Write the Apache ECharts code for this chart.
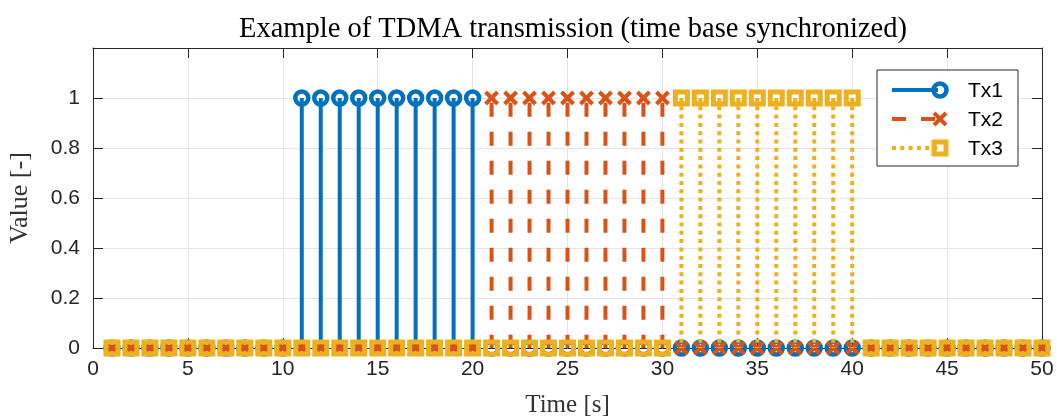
<!DOCTYPE html>
<html>
<head>
<meta charset="utf-8">
<script src="https://cdn.jsdelivr.net/npm/echarts@6/dist/echarts.min.js"></script>
<style>html,body{margin:0;padding:0;background:#fff}#c{width:1057px;height:420px}</style>
</head>
<body>
<div id="c"></div>
<script>
const titleText = 'Example of TDMA transmission (time base synchronized)';
const xLabel = 'Time [s]';
const yLabel = 'Value [-]';
const seriesNames = ['Tx1', 'Tx2', 'Tx3'];
const time = [1,2,3,4,5,6,7,8,9,10,11,12,13,14,15,16,17,18,19,20,21,22,23,24,25,26,27,28,29,30,31,32,33,34,35,36,37,38,39,40,41,42,43,44,45,46,47,48,49,50];
const tx1 = [0,0,0,0,0,0,0,0,0,0,1,1,1,1,1,1,1,1,1,1,0,0,0,0,0,0,0,0,0,0,0,0,0,0,0,0,0,0,0,0,0,0,0,0,0,0,0,0,0,0];
const tx2 = [0,0,0,0,0,0,0,0,0,0,0,0,0,0,0,0,0,0,0,0,1,1,1,1,1,1,1,1,1,1,0,0,0,0,0,0,0,0,0,0,0,0,0,0,0,0,0,0,0,0];
const tx3 = [0,0,0,0,0,0,0,0,0,0,0,0,0,0,0,0,0,0,0,0,0,0,0,0,0,0,0,0,0,0,1,1,1,1,1,1,1,1,1,1,0,0,0,0,0,0,0,0,0,0];
const yTicks = [0, 0.2, 0.4, 0.6, 0.8, 1];

const colors = ['#0072BD', '#D95319', '#EDB120'];
const dashes = [null, [14, 15], [4, 4.3]];
const dashOffsets = [0, 24.3, 0];
const markers = ['circle', 'x', 'square'];
const axisColor = '#262626';
const serif = '"Liberation Serif", "DejaVu Serif", serif';
const sans = '"Liberation Sans", Arial, sans-serif';

function markerShape(kind, cx, cy, color) {
  if (kind === 'circle') {
    return {type: 'circle', shape: {cx: cx, cy: cy, r: 6.5}, style: {fill: null, stroke: color, lineWidth: 4.5}};
  }
  if (kind === 'square') {
    return {type: 'rect', shape: {x: cx - 6, y: cy - 6, width: 12, height: 12}, style: {fill: null, stroke: color, lineWidth: 5}};
  }
  const d = 6;
  return {type: 'group', children: [
    {type: 'line', shape: {x1: cx - d, y1: cy - d, x2: cx + d, y2: cy + d}, style: {stroke: color, lineWidth: 4}},
    {type: 'line', shape: {x1: cx - d, y1: cy + d, x2: cx + d, y2: cy - d}, style: {stroke: color, lineWidth: 4}}
  ]};
}

function makeSeries(idx, values) {
  return {
    type: 'custom',
    name: seriesNames[idx],
    data: time.map((t, i) => [t, values[i]]),
    encode: {x: 0, y: 1},
    clip: false,
    renderItem: function (params, api) {
      const x = api.value(0), y = api.value(1);
      const p0 = api.coord([x, 0]);
      const p1 = api.coord([x, y]);
      const children = [];
      if (y !== 0) {
        children.push({type: 'line', shape: {x1: p1[0], y1: p1[1], x2: p0[0], y2: p0[1]},
          style: {stroke: colors[idx], lineWidth: 4, lineDash: dashes[idx], lineDashOffset: dashOffsets[idx]}});
      }
      children.push(markerShape(markers[idx], p1[0], p1[1], colors[idx]));
      return {type: 'group', children: children};
    }
  };
}

// legend via graphics
const legX = 877, legY = 70, legW = 141, legH = 96;
const legRows = [90, 119, 148];
const legendEls = [{type: 'rect', shape: {x: legX, y: legY, width: legW, height: legH},
  style: {fill: '#fff', stroke: axisColor, lineWidth: 1}, z: 100}];
seriesNames.forEach((n, i) => {
  const y = legRows[i];
  legendEls.push({type: 'line', shape: {x1: 892, y1: y, x2: 938, y2: y},
    style: {stroke: colors[i], lineWidth: 4, lineDash: dashes[i]}, z: 101});
  const m = markerShape(markers[i], 940, y, colors[i]);
  m.z = 102;
  if (m.children) m.children.forEach(c => c.z = 102);
  legendEls.push(m);
  legendEls.push({type: 'text', x: 968, y: y + 1, style: {text: n, fill: '#000', font: '21px ' + sans, textVerticalAlign: 'middle'}, z: 103});
});

const chart = echarts.init(document.getElementById('c'), null, {renderer: 'canvas'});
const lblFont = {fontFamily: sans, fontSize: 21, color: axisColor};
chart.setOption({
  animation: false,
  backgroundColor: '#fff',
  title: {text: titleText, left: 568, top: 10, textAlign: 'center',
    textStyle: {fontFamily: serif, fontSize: 28.5, fontWeight: 'normal', color: '#000'}},
  grid: {left: 93, right: 15, top: 48, bottom: 72, containLabel: false, outerBoundsMode: 'none'},
  xAxis: [{
    type: 'value', min: 0, max: 50, interval: 5, position: 'bottom',
    name: xLabel, nameLocation: 'middle', nameGap: 45,
    nameTextStyle: {fontFamily: serif, fontSize: 25, color: '#333'},
    axisLine: {show: true, onZero: false, lineStyle: {color: axisColor, width: 1}},
    axisTick: {show: true, inside: true, length: 10, lineStyle: {color: axisColor}},
    axisLabel: Object.assign({margin: 11}, lblFont),
    splitLine: {show: true, lineStyle: {color: '#e5e5e5', width: 1}}
  }, {
    type: 'value', min: 0, max: 50, interval: 5, position: 'top',
    axisLine: {show: true, onZero: false, lineStyle: {color: axisColor, width: 1}},
    axisTick: {show: true, inside: true, length: 10, lineStyle: {color: axisColor}},
    axisLabel: {show: false}, splitLine: {show: false}
  }],
  yAxis: [{
    type: 'value', min: 0, max: 1.2, interval: 0.2, position: 'left',
    name: yLabel, nameLocation: 'middle', nameGap: 60, nameRotate: 90,
    nameTextStyle: {fontFamily: serif, fontSize: 26, color: '#333'},
    axisLine: {show: true, onZero: false, lineStyle: {color: axisColor, width: 1}},
    axisTick: {show: true, inside: true, length: 10, lineStyle: {color: axisColor}},
    axisLabel: Object.assign({margin: 13, formatter: v => (yTicks.some(t => Math.abs(t - v) < 1e-9) ? String(Math.round(v * 10) / 10) : '')}, lblFont),
    splitLine: {show: true, lineStyle: {color: '#e5e5e5', width: 1}}
  }, {
    type: 'value', min: 0, max: 1.2, interval: 0.2, position: 'right',
    axisLine: {show: true, onZero: false, lineStyle: {color: axisColor, width: 1}},
    axisTick: {show: true, inside: true, length: 10, lineStyle: {color: axisColor}},
    axisLabel: {show: false}, splitLine: {show: false}
  }],
  series: [makeSeries(0, tx1), makeSeries(1, tx2), makeSeries(2, tx3)],
  graphic: legendEls
});
</script>
</body>
</html>
